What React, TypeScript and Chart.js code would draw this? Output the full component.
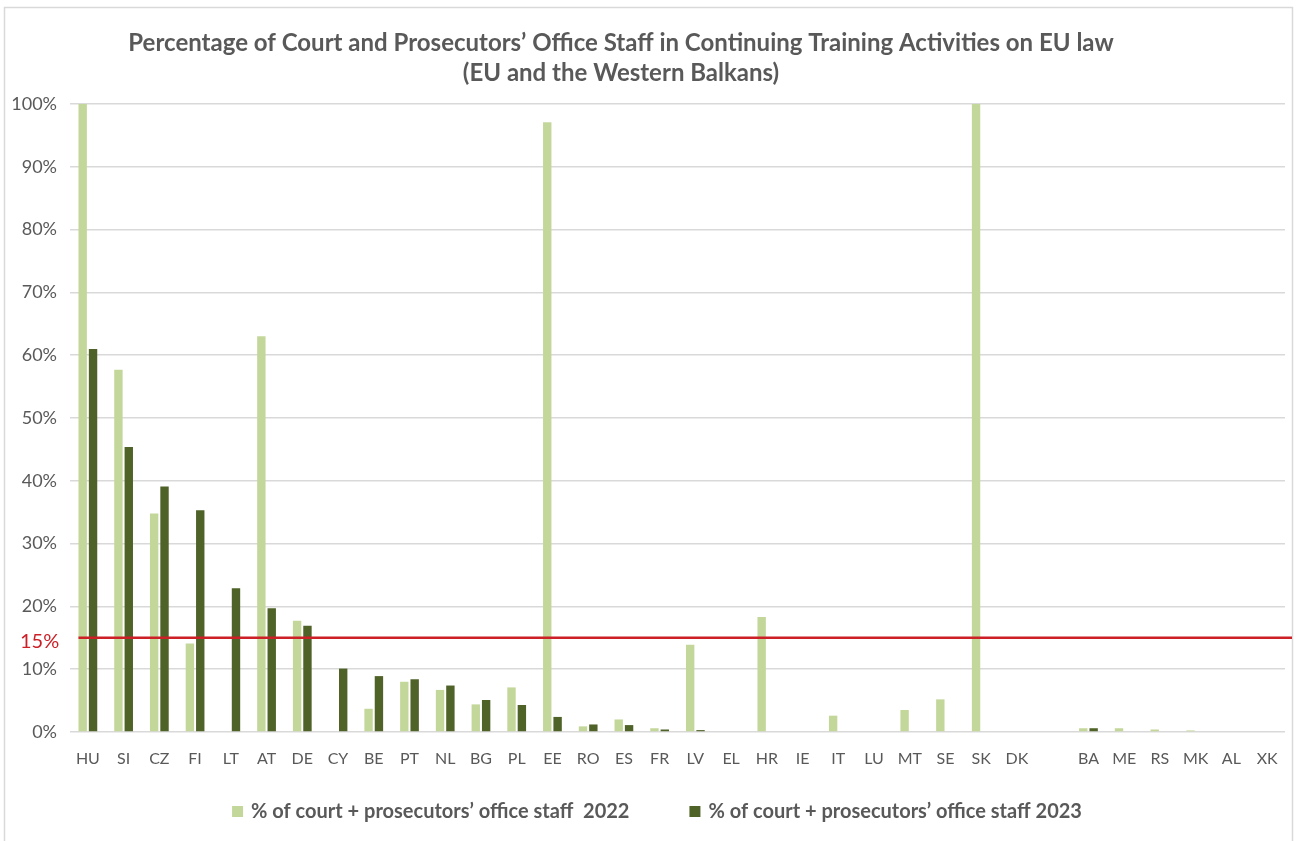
import React, { useEffect, useRef } from 'react';
import { Chart, registerables } from 'chart.js';

Chart.register(...registerables);

const countries = ['HU', 'SI', 'CZ', 'FI', 'LT', 'AT', 'DE', 'CY', 'BE', 'PT', 'NL', 'BG', 'PL', 'EE', 'RO', 'ES', 'FR', 'LV', 'EL', 'HR', 'IE', 'IT', 'LU', 'MT', 'SE', 'SK', 'DK', '', 'BA', 'ME', 'RS', 'MK', 'AL', 'XK'];

const staff2022 = [100, 57.7, 34.8, 14.1, 0, 63.0, 17.7, 0, 3.7, 8.0, 6.7, 4.4, 7.1, 97.1, 0.9, 2.0, 0.6, 13.9, 0, 18.3, 0, 2.6, 0, 3.5, 5.2, 100, 0, null, 0.6, 0.6, 0.4, 0.25, 0, 0];

const staff2023 = [61.0, 45.4, 39.1, 35.3, 22.9, 19.7, 16.9, 10.1, 8.9, 8.4, 7.4, 5.1, 4.3, 2.4, 1.2, 1.1, 0.4, 0.3, 0, 0, 0, 0, 0, 0, 0, 0, 0, null, 0.6, 0, 0, 0, 0, 0];

const seriesLabels = [
  '% of court + prosecutors\u2019 office staff  2022',
  '% of court + prosecutors\u2019 office staff 2023',
];

const titleLines = [
  'Percentage of Court and Prosecutors\u2019 Office Staff in Continuing Training Activities on EU law',
  '(EU and the Western Balkans)',
];

const threshold = 15;
const thresholdLabel = '15%';

const yMin = 0;
const yMax = 100;
const yStep = 10;

const COLOR_2022 = '#C4D79B';
const COLOR_2023 = '#4F6228';
const TEXT = '#595959';
const GRID = '#D9D9D9';
const RED = '#CC1F26';
const FONT = "Lato, 'Open Sans', 'Liberation Sans', sans-serif";

const decorPlugin = {
  id: 'decor',
  beforeDraw(chart: any) {
    const { ctx, width, height } = chart;
    ctx.save();
    ctx.fillStyle = '#ffffff';
    ctx.fillRect(0, 0, width, height);
    ctx.strokeStyle = GRID;
    ctx.lineWidth = 1.5;
    ctx.strokeRect(4.5, 7.5, width - 10, height + 20);
    ctx.restore();
  },
  afterDatasetsDraw(chart: any) {
    const { ctx, scales } = chart;
    const y = scales.y.getPixelForValue(threshold);
    const firstBar = chart.getDatasetMeta(0).data[0] as any;
    const startX = firstBar.x - firstBar.width / 2;
    ctx.save();
    ctx.strokeStyle = RED;
    ctx.lineWidth = 2.5;
    ctx.beginPath();
    ctx.moveTo(startX, y);
    ctx.lineTo(chart.width - 6, y);
    ctx.stroke();
    ctx.restore();
  },
  afterDraw(chart: any) {
    const { ctx, scales } = chart;
    ctx.save();
    // title
    ctx.fillStyle = TEXT;
    ctx.font = `bold 24px ${FONT}`;
    ctx.textAlign = 'center';
    ctx.textBaseline = 'middle';
    ctx.fillText(titleLines[0], 621, 43);
    ctx.fillText(titleLines[1], 621, 73);

    // threshold label
    const y = scales.y.getPixelForValue(threshold);
    ctx.font = `20px ${FONT}`;
    ctx.fillStyle = RED;
    ctx.textAlign = 'left';
    ctx.fillText(thresholdLabel, 20, y + 4);

    // legend
    ctx.font = `bold 20px ${FONT}`;
    const box = 11;
    const boxGap = 8;
    const itemGap = 60;
    const colors = chart.data.datasets.map((d: any) => d.backgroundColor);
    const widths = seriesLabels.map((t) => box + boxGap + ctx.measureText(t).width);
    const total = widths.reduce((a, b) => a + b, 0) + itemGap * (widths.length - 1);
    let x = 657 - total / 2;
    const ly = 811.5;
    seriesLabels.forEach((t, i) => {
      ctx.fillStyle = colors[i];
      ctx.fillRect(x, ly - box / 2, box, box);
      ctx.fillStyle = TEXT;
      ctx.textAlign = 'left';
      ctx.fillText(t, x + box + boxGap, ly);
      x += widths[i] + itemGap;
    });
    ctx.restore();
  },
};

export default function App() {
  const canvasRef = useRef<HTMLCanvasElement | null>(null);

  useEffect(() => {
    document.body.style.margin = '0';
    document.body.style.overflow = 'hidden';
    const canvas = canvasRef.current;
    if (!canvas) return;
    const chart = new Chart(canvas, {
      type: 'bar',
      data: {
        labels: countries,
        datasets: [
          {
            label: seriesLabels[0],
            data: staff2022,
            backgroundColor: COLOR_2022,
            borderWidth: 0,
            categoryPercentage: 0.58,
            barPercentage: 0.81,
          },
          {
            label: seriesLabels[1],
            data: staff2023,
            backgroundColor: COLOR_2023,
            borderWidth: 0,
            categoryPercentage: 0.58,
            barPercentage: 0.81,
          },
        ],
      },
      options: {
        responsive: false,
        animation: false,
        layout: { padding: { top: 104, right: 13, bottom: 69, left: 0 } },
        plugins: {
          legend: { display: false },
          title: { display: false },
          tooltip: { enabled: false },
        },
        scales: {
          x: {
            grid: { display: false },
            border: { display: false },
            ticks: {
              color: TEXT,
              font: { family: FONT, size: 16 },
              padding: 9,
              maxRotation: 0,
              autoSkip: false,
            },
            afterFit: (scale: any) => {
              scale.height = 40;
            },
          },
          y: {
            min: yMin,
            max: yMax,
            border: { display: false },
            grid: { color: GRID, lineWidth: 1.5, drawTicks: false },
            ticks: {
              stepSize: yStep,
              color: TEXT,
              font: { family: FONT, size: 18 },
              padding: 13,
              callback: (v: any) => `${v}%`,
            },
            afterFit: (scale: any) => {
              scale.width = 70;
            },
          },
        },
      },
      plugins: [decorPlugin],
    });
    return () => chart.destroy();
  }, []);

  return (
    <div style={{ position: 'absolute', left: 0, top: 0, width: 1298, height: 841 }}>
      <canvas ref={canvasRef} width={1298} height={841} style={{ display: 'block' }} />
    </div>
  );
}
